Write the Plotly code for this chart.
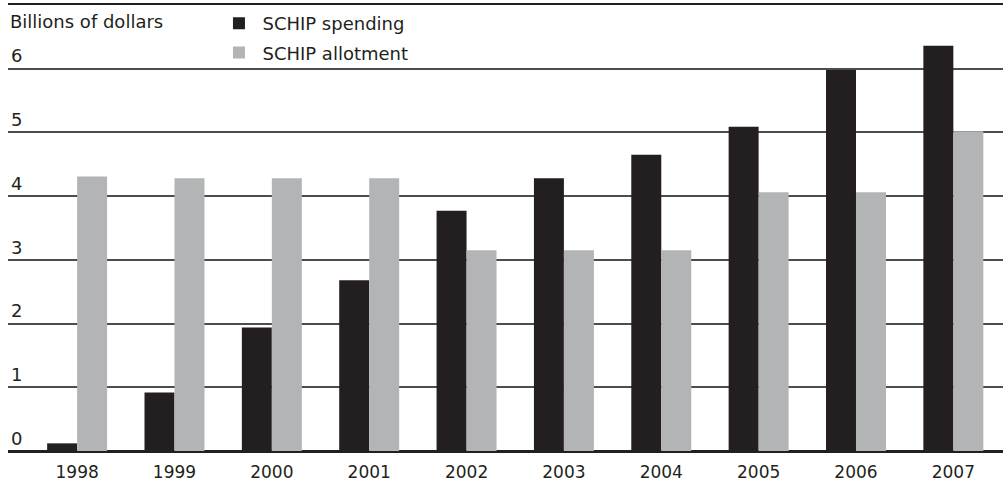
import plotly.graph_objects as go

years = ["1998", "1999", "2000", "2001", "2002", "2003", "2004", "2005", "2006", "2007"]
spending = [0.12, 0.92, 1.94, 2.68, 3.77, 4.28, 4.65, 5.09, 5.98, 6.36]
allotment = [4.31, 4.28, 4.28, 4.28, 3.15, 3.15, 3.15, 4.06, 4.06, 5.02]
y_ticks = [0, 1, 2, 3, 4, 5, 6]
y_tick_text = ["0", "1", "2", "3", "4", "5", "6"]

FONT = "DejaVu Sans"
TXT = "#231f20"

fig = go.Figure()
fig.add_trace(go.Bar(x=years, y=spending, name="SCHIP spending",
                     marker=dict(color="#231f20", line=dict(width=0)),
                     legendgroup="a"))
fig.add_trace(go.Bar(x=years, y=allotment, name="SCHIP allotment",
                     marker=dict(color="#b3b4b6", line=dict(width=0)),
                     legendgroup="b"))

fig.update_layout(
    width=1003, height=483,
    margin=dict(l=8, r=0, t=5, b=32),
    paper_bgcolor="white", plot_bgcolor="white",
    barmode="group", bargap=0.384, bargroupgap=0,
    font=dict(family=FONT, size=18, color=TXT),
    showlegend=True,
    legend=dict(x=0.2085, y=1.0, xanchor="left", yanchor="top",
                bgcolor="rgba(0,0,0,0)", font=dict(size=18, color=TXT),
                tracegroupgap=3, traceorder="grouped", itemwidth=37),
    xaxis=dict(type="category", range=[-0.71, 9.51], showgrid=False,
               showline=True, mirror=True, linecolor="#231f20", linewidth=1.5,
               ticks="", tickfont=dict(size=17, color=TXT),
               ticklabelstandoff=5, fixedrange=True),
    yaxis=dict(range=[0, 7], tickvals=y_ticks, ticktext=y_tick_text,
               showgrid=True, gridcolor="#4d4d4f", gridwidth=1.5,
               zeroline=True, zerolinecolor="#231f20", zerolinewidth=1.5,
               showline=False, ticks="", ticklabelposition="inside top",
               tickfont=dict(size=18, color=TXT), fixedrange=True),
    annotations=[dict(text="Billions of dollars", xref="paper", yref="paper",
                      x=0, y=0.962, xanchor="left", yanchor="middle",
                      showarrow=False, font=dict(size=18, color=TXT))],
)

fig.write_html("out.html")
